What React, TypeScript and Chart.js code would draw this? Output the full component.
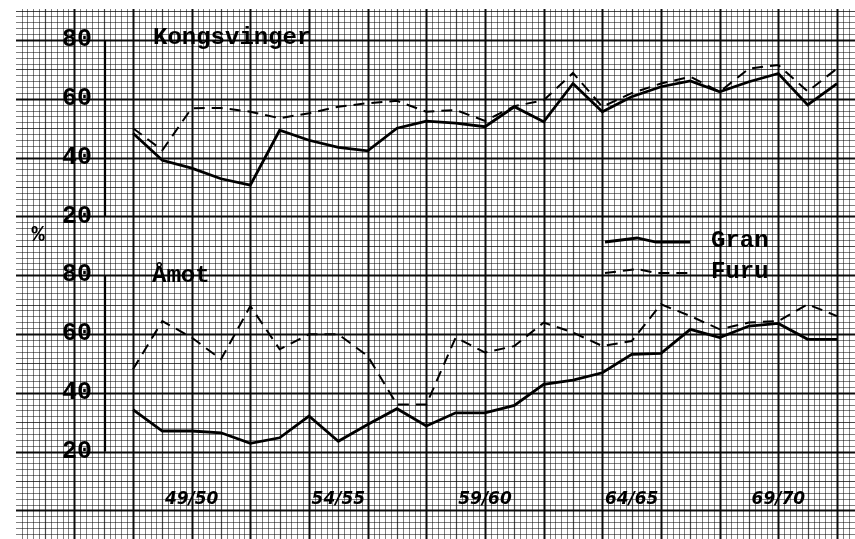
import React, { useEffect, useRef } from "react";
import { Chart, registerables } from "chart.js";

Chart.register(...registerables);

// ---- data ----
const seasons = [
  "47/48", "48/49", "49/50", "50/51", "51/52", "52/53", "53/54", "54/55", "55/56",
  "56/57", "57/58", "58/59", "59/60", "60/61", "61/62", "62/63", "63/64", "64/65",
  "65/66", "66/67", "67/68", "68/69", "69/70", "70/71", "71/72",
];
const tickSeasons = ["49/50", "54/55", "59/60", "64/65", "69/70"];
const yTickValues = [20, 40, 60, 80];

const kongsvingerGran = [
  48.3, 39.1, 36.4, 32.8, 30.6, 49.3, 45.9, 43.5, 42.3, 50.0, 52.4, 51.7, 50.5,
  57.3, 52.2, 65.2, 55.6, 60.7, 64.1, 66.1, 62.4, 65.8, 68.6, 57.9, 65.2,
];
const kongsvingerFuru = [
  50.0, 42.5, 56.8, 56.9, 55.6, 53.4, 55.1, 57.3, 58.5, 59.3, 55.6, 56.2, 52.5,
  57.5, 59.5, 68.8, 57.3, 61.9, 65.2, 67.5, 62.4, 70.3, 71.5, 62.5, 70.3,
];
const amotGran = [
  34.3, 27.0, 27.0, 26.4, 22.8, 24.7, 32.1, 23.5, 29.2, 34.6, 28.7, 33.2, 33.2,
  35.7, 42.9, 44.3, 46.8, 53.1, 53.4, 61.6, 58.8, 62.7, 63.6, 58.2, 58.2,
];
const amotFuru = [
  48.0, 64.4, 58.8, 51.4, 69.5, 54.8, 59.9, 59.9, 52.5, 36.0, 36.0, 58.8, 53.7,
  55.9, 63.9, 60.5, 55.9, 57.6, 70.1, 66.1, 61.6, 63.9, 64.4, 70.1, 66.1,
];

const panelTitles = ["Kongsvinger", "Åmot"];
const seriesNames = ["Gran", "Furu"];

const INK = "#000";
const MONO = "'Liberation Mono', 'DejaVu Sans Mono', monospace";

// graph paper behind the chart, aligned to the chart's own scales
const paperPlugin = {
  id: "paper",
  beforeDraw(chart: any) {
    const { ctx, width, height } = chart;
    const x = chart.scales.x;
    const yT = chart.scales.yT;
    ctx.save();
    ctx.fillStyle = "#fff";
    ctx.fillRect(0, 0, width, height);
    const left = 16, top = 9;
    const x0 = x.getPixelForValue(0);
    const sx = (x.getPixelForValue(1) - x0) / 5;
    const y0 = yT.getPixelForValue(80);
    const sy = yT.getPixelForValue(78) - y0;
    const style = (k: number) => {
      const m = ((k % 10) + 10) % 10;
      if (m === 0) { ctx.strokeStyle = "rgba(0,0,0,0.95)"; ctx.lineWidth = 2; }
      else if (m === 5) { ctx.strokeStyle = "rgba(0,0,0,0.72)"; ctx.lineWidth = 1.2; }
      else { ctx.strokeStyle = "rgba(0,0,0,0.5)"; ctx.lineWidth = 1; }
    };
    const kx0 = Math.ceil((left - x0) / sx);
    const kx1 = Math.floor((width - x0) / sx);
    for (let k = kx0; k <= kx1; k++) {
      const px = Math.round(x0 + k * sx) + 0.5;
      style(k);
      ctx.beginPath();
      ctx.moveTo(px, top);
      ctx.lineTo(px, height);
      ctx.stroke();
    }
    const ky0 = Math.ceil((top - y0) / sy);
    const ky1 = Math.floor((height - y0) / sy);
    for (let k = ky0; k <= ky1; k++) {
      const py = Math.round(y0 + k * sy) + 0.5;
      style(k);
      ctx.beginPath();
      ctx.moveTo(left, py);
      ctx.lineTo(width, py);
      ctx.stroke();
    }
    // hand-drawn axis line of each panel
    ctx.strokeStyle = INK;
    ctx.lineWidth = 2.2;
    const ax = 105;
    for (const id of ["yT", "yB"]) {
      const s = chart.scales[id];
      ctx.beginPath();
      ctx.moveTo(ax, s.getPixelForValue(80));
      ctx.lineTo(ax, s.getPixelForValue(20));
      ctx.stroke();
    }
    ctx.restore();
  },
};

// panel titles, % sign and the hand-made legend
const notesPlugin = {
  id: "notes",
  afterDraw(chart: any) {
    const { ctx } = chart;
    const ds = chart.data.datasets;
    ctx.save();
    ctx.fillStyle = INK;
    ctx.textBaseline = "alphabetic";
    ctx.textAlign = "left";
    ctx.font = `bold 24px ${MONO}`;
    ctx.fillText(panelTitles[0], 153, 44);
    ctx.fillText(panelTitles[1], 152, 282);
    ctx.font = `bold 22px ${MONO}`;
    ctx.textAlign = "center";
    ctx.textBaseline = "middle";
    ctx.fillText("%", 38, 235);

    const rows = [
      { d: ds[0], y: 242, text: seriesNames[0] },
      { d: ds[1], y: 273, text: seriesNames[1] },
    ];
    for (const r of rows) {
      ctx.strokeStyle = r.d.borderColor;
      ctx.lineWidth = r.d.borderWidth;
      ctx.setLineDash(r.d.borderDash || []);
      ctx.beginPath();
      ctx.moveTo(605, r.y);
      ctx.lineTo(637, r.y - 4);
      ctx.lineTo(656, r.y);
      ctx.lineTo(690, r.y);
      ctx.stroke();
      ctx.setLineDash([]);
      ctx.font = `bold 24px ${MONO}`;
      ctx.textAlign = "left";
      ctx.textBaseline = "middle";
      ctx.fillText(r.text, 711, r.y - 1);
    }
    ctx.restore();
  },
};

export default function App() {
  const ref = useRef<HTMLCanvasElement | null>(null);

  useEffect(() => {
    if (!ref.current) return;
    const solid = { borderColor: INK, borderWidth: 2.8, pointRadius: 0, tension: 0, fill: false };
    const dashed = { borderColor: INK, borderWidth: 2, borderDash: [11, 7], pointRadius: 0, tension: 0, fill: false };
    const yTicksFn = (s: any) => { s.ticks = yTickValues.map((v) => ({ value: v })); };
    const yTickOpts = { padding: 0, crossAlign: "far", color: INK, font: { family: MONO, size: 25, weight: "bold" } };
    const chart = new Chart(ref.current, {
      type: "line",
      data: {
        labels: seasons,
        datasets: [
          { label: `${panelTitles[0]} ${seriesNames[0]}`, data: kongsvingerGran, yAxisID: "yT", ...solid },
          { label: `${panelTitles[0]} ${seriesNames[1]}`, data: kongsvingerFuru, yAxisID: "yT", ...dashed },
          { label: `${panelTitles[1]} ${seriesNames[0]}`, data: amotGran, yAxisID: "yB", ...solid },
          { label: `${panelTitles[1]} ${seriesNames[1]}`, data: amotFuru, yAxisID: "yB", ...dashed },
        ],
      },
      options: {
        animation: false,
        responsive: false,
        devicePixelRatio: 1,
        layout: { padding: { left: 62, right: 18, top: 40, bottom: 0 } },
        plugins: { legend: { display: false }, tooltip: { enabled: false }, title: { display: false } },
        scales: {
          x: {
            type: "category",
            grid: { display: false, drawTicks: false },
            border: { display: false },
            ticks: {
              autoSkip: false,
              maxRotation: 0,
              minRotation: 0,
              padding: 8,
              color: INK,
              font: { family: "'DejaVu Sans', sans-serif", size: 17, style: "italic", weight: "bold" },
              callback: (_v: any, i: number) => (tickSeasons.includes(seasons[i]) ? seasons[i] : ""),
            },
            afterFit: (s: any) => { s.height = 58; },
          },
          yB: {
            type: "linear",
            position: "left",
            stack: "panels",
            stackWeight: 70,
            min: 10,
            max: 80,
            grid: { display: false, drawTicks: false },
            border: { display: false },
            afterBuildTicks: yTicksFn,
            ticks: yTickOpts,
            afterFit: (s: any) => { s.width = 71; },
          },
          yT: {
            type: "linear",
            position: "left",
            stack: "panels",
            stackWeight: 80,
            min: 0,
            max: 80,
            grid: { display: false, drawTicks: false },
            border: { display: false },
            afterBuildTicks: yTicksFn,
            ticks: yTickOpts,
            afterFit: (s: any) => { s.width = 71; },
          },
        },
      } as any,
      plugins: [paperPlugin, notesPlugin],
    });
    return () => chart.destroy();
  }, []);

  return (
    <div style={{ position: "fixed", left: 0, top: 0, width: 855, height: 539, background: "#fff" }}>
      <canvas ref={ref} width={855} height={539} style={{ display: "block", width: 855, height: 539 }} />
    </div>
  );
}
